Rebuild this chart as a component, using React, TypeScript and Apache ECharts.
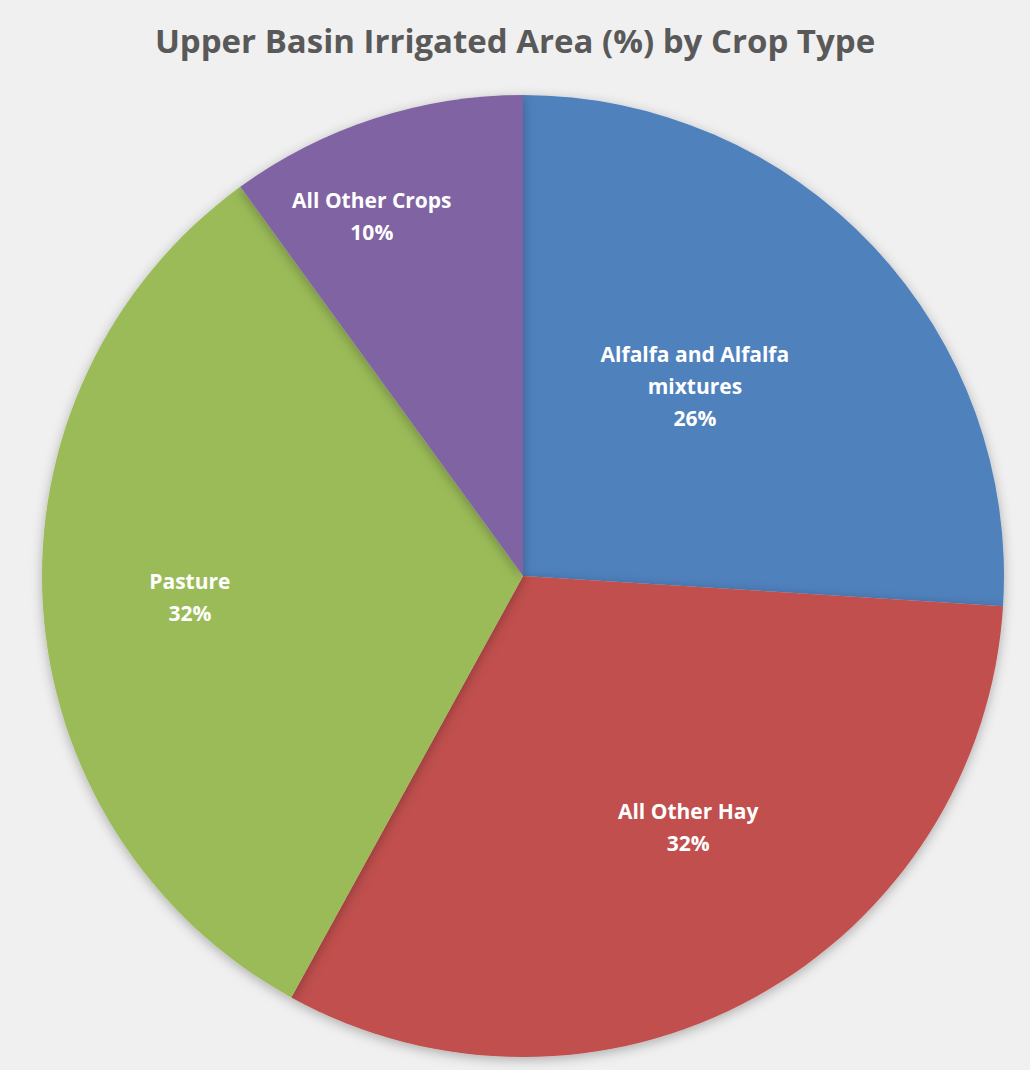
import React, { useEffect, useRef } from "react";
import * as echarts from "echarts";

const titleText = "Upper Basin Irrigated Area (%) by Crop Type";
const categories = ["Alfalfa and Alfalfa mixtures", "All Other Hay", "Pasture", "All Other Crops"];
const labelNames = ["Alfalfa and Alfalfa\nmixtures", "All Other Hay", "Pasture", "All Other Crops"];
const values = [26, 32, 32, 10];
const colors = ["#4F81BD", "#C0504D", "#9BBB59", "#8064A2"];
// label placement as in the reference: fraction of radius and angle shift (deg) from slice middle
const labelRadius = [0.532, 0.624, 0.694, 0.811];
const labelAngleShift = [-4.6, -4.6, 0, -4.8];

const W = 1030;
const H = 1070;
const CX = 523;
const CY = 576;
const R = 481;

export default function App() {
  const ref = useRef<HTMLDivElement>(null);
  useEffect(() => {
    document.body.style.margin = "0";
    const chart = echarts.init(ref.current!, null, { renderer: "svg" });
    const total = values.reduce((a, b) => a + b, 0);
    const mids: number[] = [];
    let acc = 0;
    values.forEach((v) => {
      mids.push(((acc + v / 2) / total) * Math.PI * 2);
      acc += v;
    });
    chart.setOption({
      animation: false,
      backgroundColor: "#f0f0f0",
      title: {
        text: titleText,
        left: "center",
        top: 19,
        textStyle: {
          fontFamily: "Open Sans",
          fontWeight: "bold",
          fontSize: 33,
          color: "#595959",
        },
      },
      series: [
        {
          type: "pie",
          center: [CX, CY],
          radius: [0, R],
          startAngle: 90,
          clockwise: true,
          data: categories.map((c, i) => ({
            name: c,
            value: values[i],
            itemStyle: { color: colors[i] },
          })),
          itemStyle: {
            borderWidth: 0,
            shadowBlur: 12,
            shadowColor: "rgba(0,0,0,0.28)",
            shadowOffsetY: 3,
          },
          label: {
            show: true,
            position: "inside",
            formatter: (p: any) => `${labelNames[p.dataIndex]}\n${p.value}%`,
            color: "#ffffff",
            fontFamily: "Open Sans",
            fontWeight: "bold",
            fontSize: 21,
            lineHeight: 32,
            align: "center",
          },
          labelLayout: (p: any) => {
            const i = p.dataIndex;
            const a = mids[i] + (labelAngleShift[i] * Math.PI) / 180;
            const r = R * labelRadius[i];
            return {
              x: CX + Math.sin(a) * r,
              y: CY - Math.cos(a) * r,
              align: "center",
              verticalAlign: "middle",
            };
          },
          labelLine: { show: false },
          emphasis: { disabled: true },
        },
      ],
    });
    return () => chart.dispose();
  }, []);
  return <div ref={ref} style={{ width: W, height: H }} />;
}
